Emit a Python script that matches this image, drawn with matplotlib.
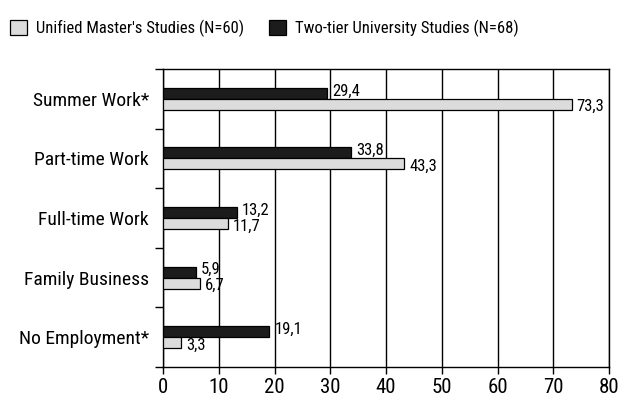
import matplotlib
matplotlib.use("Agg")
import matplotlib.pyplot as plt
from matplotlib import font_manager as fm
from matplotlib.patches import Patch

available = {f.name for f in fm.fontManager.ttflist}
fam = "DejaVu Sans"
for cand in ["Roboto Condensed", "Archivo Narrow", "PT Sans Narrow", "TeX Gyre Heros Cn"]:
    if cand in available:
        fam = cand
        break
plt.rcParams['font.family'] = [fam, 'DejaVu Sans']

categories = ["Summer Work*", "Part-time Work", "Full-time Work", "Family Business", "No Employment*"]
unified = [73.3, 43.3, 11.7, 6.7, 3.3]
twotier = [29.4, 33.8, 13.2, 5.9, 19.1]
series_names = ["Unified Master's Studies (N=60)", "Two-tier University Studies (N=68)"]
xticks = [0, 10, 20, 30, 40, 50, 60, 70, 80]

light = "#dcdcdc"
dark = "#1c1c1c"

fig = plt.figure(figsize=(6.31, 4.0), dpi=100)
ax = fig.add_axes([163/631, 1 - 367/400, (609 - 163)/631, (367 - 69)/400])

h = 0.185
ys = list(range(len(categories)))
ax.barh([y - h/2 for y in ys], twotier, height=h, color=dark, edgecolor="black", linewidth=0.9, zorder=3)
ax.barh([y + h/2 for y in ys], unified, height=h, color=light, edgecolor="black", linewidth=0.9, zorder=3)

def fmt(v):
    return f"{v:.1f}".replace(".", ",")

for y, v in zip(ys, twotier):
    ax.text(v + 0.9, y - h/2 - 0.04, fmt(v), va="center", ha="left", fontsize=12, zorder=4)
for y, v in zip(ys, unified):
    ax.text(v + 0.9, y + h/2 + 0.04, fmt(v), va="center", ha="left", fontsize=12, zorder=4)

ax.set_xlim(0, 80)
ax.set_ylim(len(categories) - 0.5, -0.5)
ax.set_xticks(xticks)
ax.set_xticklabels([str(t) for t in xticks], fontsize=15)
ax.set_yticks(ys)
ax.set_yticklabels(categories, fontsize=14)
ax.set_yticks([y - 0.5 for y in range(len(categories) + 1)], minor=True)
ax.tick_params(axis="y", which="major", length=0, pad=10)
ax.tick_params(axis="y", which="minor", length=6, width=1, direction="out")
ax.tick_params(axis="x", length=5, width=1, direction="out", pad=3)
ax.grid(axis="x", color="black", linewidth=1, zorder=1)
for s in ax.spines.values():
    s.set_color("black")
    s.set_linewidth(1)

handles = [Patch(facecolor=light, edgecolor="black", linewidth=0.9),
           Patch(facecolor=dark, edgecolor="black", linewidth=0.9)]
fig.legend(handles, series_names, loc="upper left", bbox_to_anchor=(0.0, 0.975), ncol=2,
           frameon=False, fontsize=12, handlelength=1.0, handleheight=1.05,
           columnspacing=1.5, handletextpad=0.55, borderaxespad=0.2)

fig.savefig("out.png", dpi=100)
